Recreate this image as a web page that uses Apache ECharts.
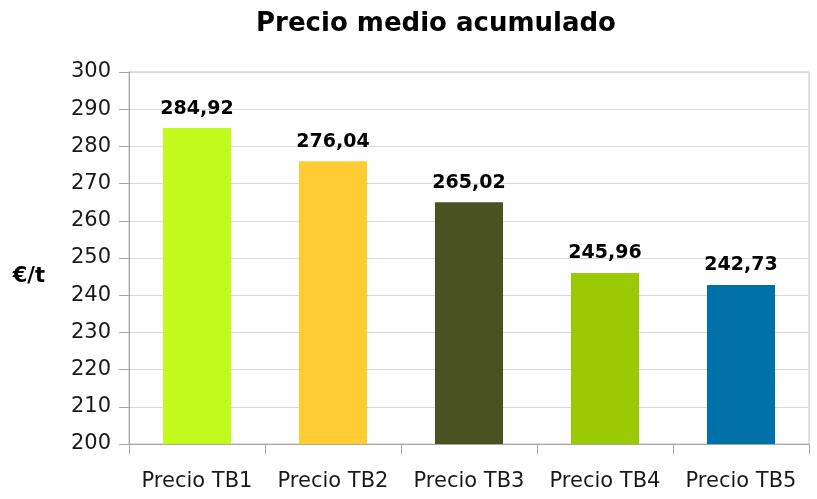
<!DOCTYPE html>
<html>
<head>
<meta charset="utf-8">
<script src="https://cdn.jsdelivr.net/npm/echarts@6/dist/echarts.min.js"></script>
<style>
  html, body { margin: 0; padding: 0; background: #ffffff; }
  #chart { width: 817px; height: 499px; }
</style>
</head>
<body>
<div id="chart"></div>
<script>
var categories = ['Precio TB1', 'Precio TB2', 'Precio TB3', 'Precio TB4', 'Precio TB5'];
var values = [284.92, 276.04, 265.02, 245.96, 242.73];
var barColors = ['#C3FA1E', '#FFCC33', '#4A5123', '#9BC904', '#0070A8'];

var font = '"DejaVu Sans", sans-serif';

var option = {
  backgroundColor: '#ffffff',
  animation: false,
  title: {
    text: 'Precio medio acumulado',
    left: 431,
    textAlign: 'center',
    top: 6,
    textStyle: { fontSize: 26, fontWeight: 'bold', color: '#000', fontFamily: font }
  },
  grid: {
    left: 129,
    right: 8,
    top: 72,
    bottom: 55,
    show: true,
    borderColor: '#BFBFBF',
    borderWidth: 1
  },
  xAxis: {
    type: 'category',
    data: categories,
    axisLine: { lineStyle: { color: '#A6A6A6' } },
    axisTick: { show: true, length: 10, lineStyle: { color: '#A6A6A6' } },
    axisLabel: { interval: 0, color: '#1a1a1a', fontSize: 21, fontFamily: font, margin: 27 }
  },
  yAxis: {
    type: 'value',
    min: 200,
    max: 300,
    interval: 10,
    name: '€/t',
    nameLocation: 'middle',
    nameGap: 84,
    nameRotate: 0,
    nameTextStyle: { fontSize: 21, fontWeight: 'bold', color: '#000', fontFamily: font, verticalAlign: 'top', lineHeight: 38 },
    axisLine: { show: true, lineStyle: { color: '#A6A6A6' } },
    axisTick: { show: true, length: 10, lineStyle: { color: '#A6A6A6' } },
    axisLabel: { color: '#1a1a1a', fontSize: 21, fontFamily: font, margin: 18 },
    splitLine: { lineStyle: { color: '#D9D9D9' } }
  },
  series: [{
    type: 'bar',
    barWidth: '50%',
    data: values.map(function (v, i) {
      return { value: v, itemStyle: { color: barColors[i] } };
    }),
    label: {
      show: true,
      position: 'top',
      distance: 10,
      color: '#000',
      fontSize: 19,
      fontWeight: 'bold',
      fontFamily: font,
      formatter: function (p) { return p.value.toFixed(2).replace('.', ','); }
    }
  }]
};

var myChart = echarts.init(document.getElementById('chart'));
myChart.setOption(option);
</script>
</body>
</html>
